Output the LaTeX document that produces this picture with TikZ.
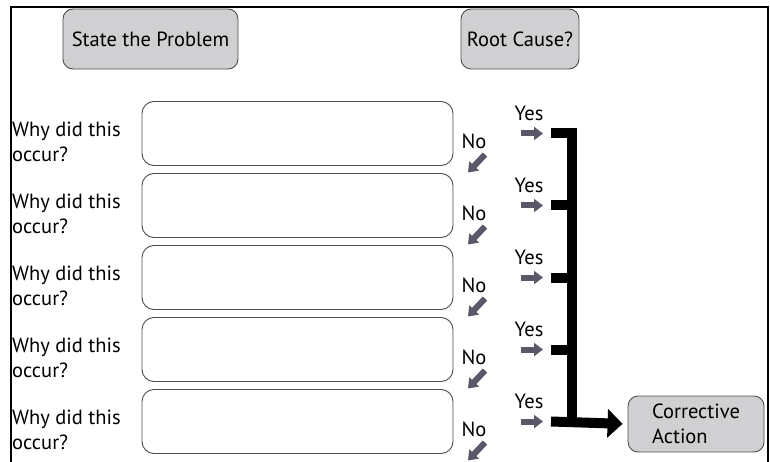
\documentclass[tikz,border=0pt]{standalone}
\usepackage{fontspec}
\setmainfont{PT Sans}
\usetikzlibrary{arrows.meta,positioning,calc}
\definecolor{boxgray}{HTML}{D0D0D2}
\definecolor{edgegray}{HTML}{4D4D4D}
\definecolor{arrowslate}{HTML}{585868}

\begin{document}
\begin{tikzpicture}[x=1pt, y=-1pt, font=\fontsize{20.5}{25}\selectfont,
  headbox/.style={draw=edgegray, fill=boxgray, rounded corners=10pt, line width=0.9pt, inner sep=0pt},
  answerbox/.style={draw=edgegray, rounded corners=12pt, line width=0.9pt, minimum width=311pt, minimum height=64pt},
  smallarrow/.style={arrowslate, line width=6pt, -{Triangle[length=9pt, width=13pt]}},
  thickline/.style={line width=10pt}]
  \useasboundingbox (0,0) rectangle (770,462);
  \draw[line width=1.5pt] (11,462) -- (11,7) -- (768,7) -- (768,462);

  \node[headbox, minimum width=175pt, minimum height=60pt] (problem) at (150.5,39) {State the Problem};
  \node[headbox, minimum width=118pt, minimum height=60pt] (rootcause) at (520,39) {Root Cause?};
  \node[headbox, minimum width=136pt, minimum height=56pt, align=left] (action) at (696,424) {Corrective\\Action};

  \foreach \i in {0,...,4} {
    \pgfmathsetmacro{\yy}{133.5+72*\i}
    \node[anchor=west, align=left, inner sep=0pt] (why\i) at (12,\yy+8) {Why did this\\occur?};
    \node[answerbox] (answer\i) at (297.5,\yy) {};
    \node[inner sep=0pt] (no\i) at (474,\yy+8) {No};
    \node[inner sep=0pt] (yes\i) at (529,\yy-20) {Yes};
    \draw[smallarrow] (521,\yy) -- (543,\yy);
    \draw[smallarrow] (485,\yy+21) -- (468,\yy+39);
    \coordinate (stub\i) at (551,\yy);
    \coordinate (join\i) at (572,\yy);
  }

  \draw[thickline] (stub0) -- (join0 |- stub0) ++(0,-5) -- (join4);
  \foreach \i in {1,2,3} {
    \draw[thickline] (stub\i) -- (join\i);
  }
  \draw[thickline, shorten >=5pt, -{Triangle[length=15pt, width=28pt]}] (stub4) -- (action.west);
\end{tikzpicture}
\end{document}
